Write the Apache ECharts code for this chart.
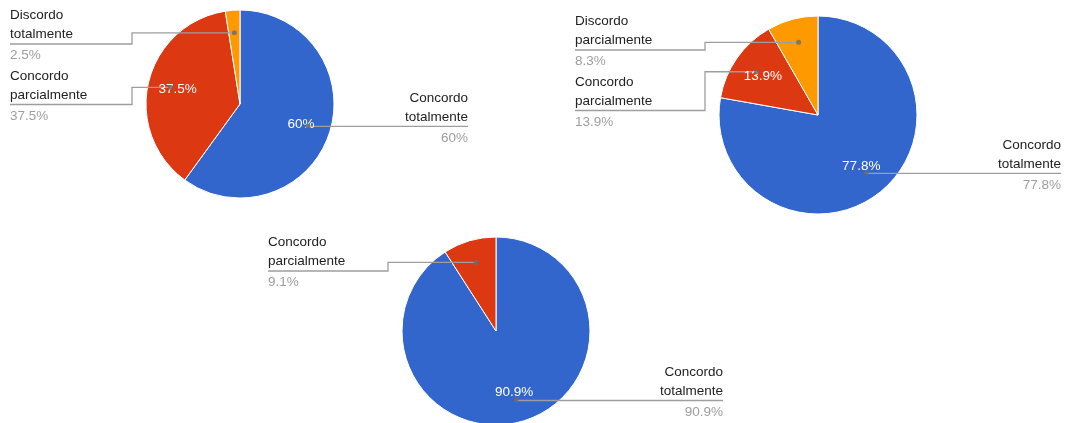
<!DOCTYPE html>
<html>
<head>
<meta charset="utf-8">
<script src="https://cdn.jsdelivr.net/npm/echarts@6/dist/echarts.min.js"></script>
<style>
html,body{margin:0;padding:0;background:#fff;}
#chart{width:1065px;height:423px;}
</style>
</head>
<body>
<div id="chart"></div>
<script>
// ---- Data ----
const categories1 = ['Concordo totalmente', 'Concordo parcialmente', 'Discordo totalmente'];
const values1 = [60, 37.5, 2.5];

const categories2 = ['Concordo totalmente', 'Concordo parcialmente', 'Discordo parcialmente'];
const values2 = [77.8, 13.9, 8.3];

const categories3 = ['Concordo totalmente', 'Concordo parcialmente'];
const values3 = [90.9, 9.1];

// ---- Styles ----
const sliceColors = {
  'Concordo totalmente': '#3366cc',
  'Concordo parcialmente': '#dc3912',
  'Discordo totalmente': '#ff9900',
  'Discordo parcialmente': '#ff9900'
};
const FONT = '"Liberation Sans", Arial, sans-serif';
const FS = 13.5;
const LINE = '#9e9e9e';
const ANCHOR = 0.76;   // fraction of radius where leader lines start
const SPACING = 60.5;  // vertical distance between stacked outside labels
const TOP_GAP = 34;    // min distance from pie top to first label's line

function outerFormatter(p) {
  const words = p.name.split(' ');
  return words.map(w => '{n|' + w + '}').join('\n') + '\n{hr|}\n{p|' + p.value + '%}';
}

// store of library-computed label info, used to stack labels Google-style
const labelStore = {};

function makeLabelLayout(box) {
  return function (params) {
    const pts = params.labelLinePoints;
    if (!pts) return {};
    const r = params.labelRect;
    const a = pts[0];
    const left = (r.x + r.width / 2) < box.cx;
    const key = params.seriesIndex;
    labelStore[key] = labelStore[key] || {};
    labelStore[key][params.dataIndex] = { ay: pts[1][1], left: left };

    // stack labels of the same side, top-down
    const minY = box.cy - box.R + TOP_GAP;
    const items = Object.keys(labelStore[key])
      .map(k => ({ idx: +k, ay: labelStore[key][k].ay, left: labelStore[key][k].left }))
      .filter(it => it.left === left)
      .sort((u, v) => u.ay - v.ay);
    let prev = -Infinity, y = pts[1][1];
    for (const it of items) {
      const yy = Math.max(it.ay, left ? minY : -Infinity, prev + SPACING);
      prev = yy;
      if (it.idx === params.dataIndex) y = yy;
    }

    const far = left ? r.x : r.x + r.width;
    let line;
    if (Math.abs(a[1] - y) < 2) {
      line = [[a[0], y], [far, y]];
    } else {
      const ex = left ? box.cx - box.R - 14 : box.cx + box.R + 14;
      line = [a, [ex, a[1]], [ex, y], [far, y]];
    }
    return { y: y, labelLinePoints: line };
  };
}

function mids(vals) {
  let acc = 0;
  return vals.map(v => { const m = acc + v / 2; acc += v; return m; });
}

function pieSeries(idx, cats, vals, box) {
  const data = cats.map((c, i) => ({ name: c, value: vals[i], itemStyle: { color: sliceColors[c] } }));
  const common = {
    type: 'pie', left: box.left, top: 0, width: box.width, height: 600,
    center: [box.cx - box.left, box.cy], startAngle: 90, clockwise: true,
    silent: true, animation: false
  };
  return [
    Object.assign({}, common, {
      z: 2, radius: [0, box.R], data: data,
      itemStyle: { borderColor: '#fff', borderWidth: 1 },
      label: { show: false }, labelLine: { show: false }
    }),
    Object.assign({}, common, {
      z: 3, radius: [0, ANCHOR * box.R],
      data: data.map(d => ({ name: d.name, value: d.value })),
      itemStyle: { color: 'rgba(0,0,0,0)', borderWidth: 0 },
      avoidLabelOverlap: false,
      label: {
        position: 'outside', alignTo: 'edge', edgeDistance: 0, distanceToLabelLine: 0,
        formatter: outerFormatter, padding: [0, 0, 15, 0],
        rich: {
          n: { fontSize: FS, color: '#222', lineHeight: 19, fontFamily: FONT },
          hr: { width: '100%', height: 0, borderWidth: 0, borderColor: 'rgba(0,0,0,0)' },
          p: { fontSize: FS, color: '#9e9e9e', lineHeight: 23, fontFamily: FONT }
        }
      },
      labelLine: { show: true, length: 1, length2: 0, lineStyle: { color: LINE, width: 1.3 } },
      labelLayout: makeLabelLayout(box)
    }),
    Object.assign({}, common, {
      z: 4, radius: [0.3 * box.R, box.R],
      data: data.map(d => ({ name: d.name, value: d.value, label: { show: d.value >= 10 } })),
      itemStyle: { color: 'rgba(0,0,0,0)', borderWidth: 0 },
      label: { position: 'inside', formatter: p => p.value + '%', color: '#fff', fontSize: FS, fontFamily: FONT },
      labelLine: { show: false }
    }),
    {
      type: 'scatter', coordinateSystem: 'polar', polarIndex: idx, z: 5, silent: true,
      symbol: 'circle', symbolSize: 5, itemStyle: { color: '#6b6b6b' },
      data: mids(vals).map(m => [ANCHOR, m])
    }
  ];
}

const boxes = [
  { left: 10, width: 458, cx: 240, cy: 104, R: 94 },
  { left: 575, width: 486, cx: 818, cy: 115, R: 99 },
  { left: 268, width: 455, cx: 496, cy: 331, R: 94 }
];
const allValues = [values1, values2, values3];

const option = {
  backgroundColor: '#fff',
  animation: false,
  polar: boxes.map(b => ({ center: [b.cx, b.cy], radius: b.R })),
  angleAxis: boxes.map((b, i) => ({
    polarIndex: i, type: 'value', min: 0, max: allValues[i].reduce((s, v) => s + v, 0),
    startAngle: 90, clockwise: true, show: false
  })),
  radiusAxis: boxes.map((b, i) => ({ polarIndex: i, type: 'value', min: 0, max: 1, show: false })),
  series: [].concat(
    pieSeries(0, categories1, values1, boxes[0]),
    pieSeries(1, categories2, values2, boxes[1]),
    pieSeries(2, categories3, values3, boxes[2])
  )
};

const chart = echarts.init(document.getElementById('chart'), null, { renderer: 'canvas' });
chart.setOption(option);
// second pass: every label's library-computed anchor is now known, so stacking is complete
chart.setOption(option, true);
</script>
</body>
</html>
